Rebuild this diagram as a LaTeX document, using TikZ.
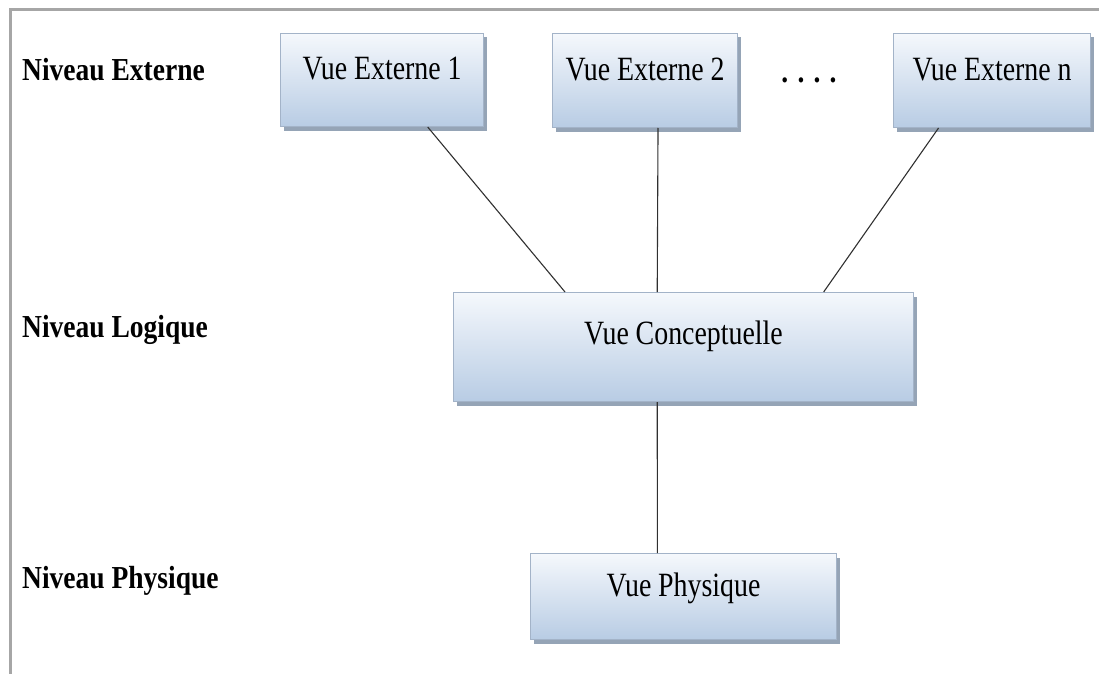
\documentclass[tikz,border=0pt]{standalone}
\usepackage{fontspec}
\setmainfont{Liberation Serif}[FakeStretch=0.86]
\newfontfamily\boxfont{Liberation Serif}[FakeStretch=0.82]
\usetikzlibrary{calc,shadows}
\definecolor{boxtop}{HTML}{F5F8FC}
\definecolor{boxbottom}{HTML}{B8CCE4}
\definecolor{boxedge}{HTML}{A3B3C8}
\definecolor{boxshadow}{HTML}{8A9AAE}
\definecolor{framegray}{HTML}{A6A6A6}
\definecolor{linkgray}{HTML}{303030}
\begin{document}
\begin{tikzpicture}[x=1pt,y=-1pt,
  viewbox/.style={draw=boxedge, line width=1pt, top color=boxtop, bottom color=boxbottom,
    anchor=north west, inner sep=0pt, font=\boxfont\fontsize{34}{38}\selectfont,
    execute at begin node={\spaceskip=0.2em\relax},
    text height=0.7em, text depth=0.7em,
    drop shadow={shadow xshift=3pt, shadow yshift=-4pt, fill=boxshadow, opacity=0.9}},
  levellabel/.style={anchor=base west, inner sep=0pt, font=\fontsize{32}{36}\selectfont\bfseries},
  link/.style={draw=linkgray, line width=1.1pt}]
  \useasboundingbox (0,0) rectangle (1099,674);
  % open frame: top and left edges
  \draw[framegray, line width=3pt] (1099,10) -- (10,10) -- (10,674);

  % level names
  \node[levellabel] (lext) at (22,81) {Niveau Externe};
  \node[levellabel] (llog) at (22,337) {Niveau Logique};
  \node[levellabel] (lphy) at (22,588) {Niveau Physique};

  % views
  \node[viewbox, minimum width=203pt, minimum height=93pt] (e1) at (280,33) {Vue Externe 1};
  \node[viewbox, minimum width=185pt, minimum height=94pt] (e2) at (552,33) {Vue Externe 2};
  \node[viewbox, minimum width=197pt, minimum height=94pt] (en) at (893,33) {Vue Externe n};
  \node[inner sep=0pt, font=\fontsize{32}{36}\selectfont\bfseries] (dots) at (809,80) {. . . .};
  \node[viewbox, minimum width=460pt, minimum height=109pt, text height=0.7em, text depth=1.3em] (vc) at (453,292) {Vue Conceptuelle};
  \node[viewbox, minimum width=306pt, minimum height=86pt] (vp) at (530,553) {Vue Physique};

  % connectors
  \draw[link] ($(e1.south west)!0.724!(e1.south east)$) -- ($(vc.north west)!0.243!(vc.north east)$);
  \draw[link] ($(e2.south west)!0.57!(e2.south east)$) -- ($(vc.north west)!0.443!(vc.north east)$);
  \draw[link] ($(en.south west)!0.23!(en.south east)$) -- ($(vc.north west)!0.804!(vc.north east)$);
  \draw[link] ($(vc.south west)!0.443!(vc.south east)$) -- ($(vp.north west)!0.415!(vp.north east)$);
\end{tikzpicture}
\end{document}
